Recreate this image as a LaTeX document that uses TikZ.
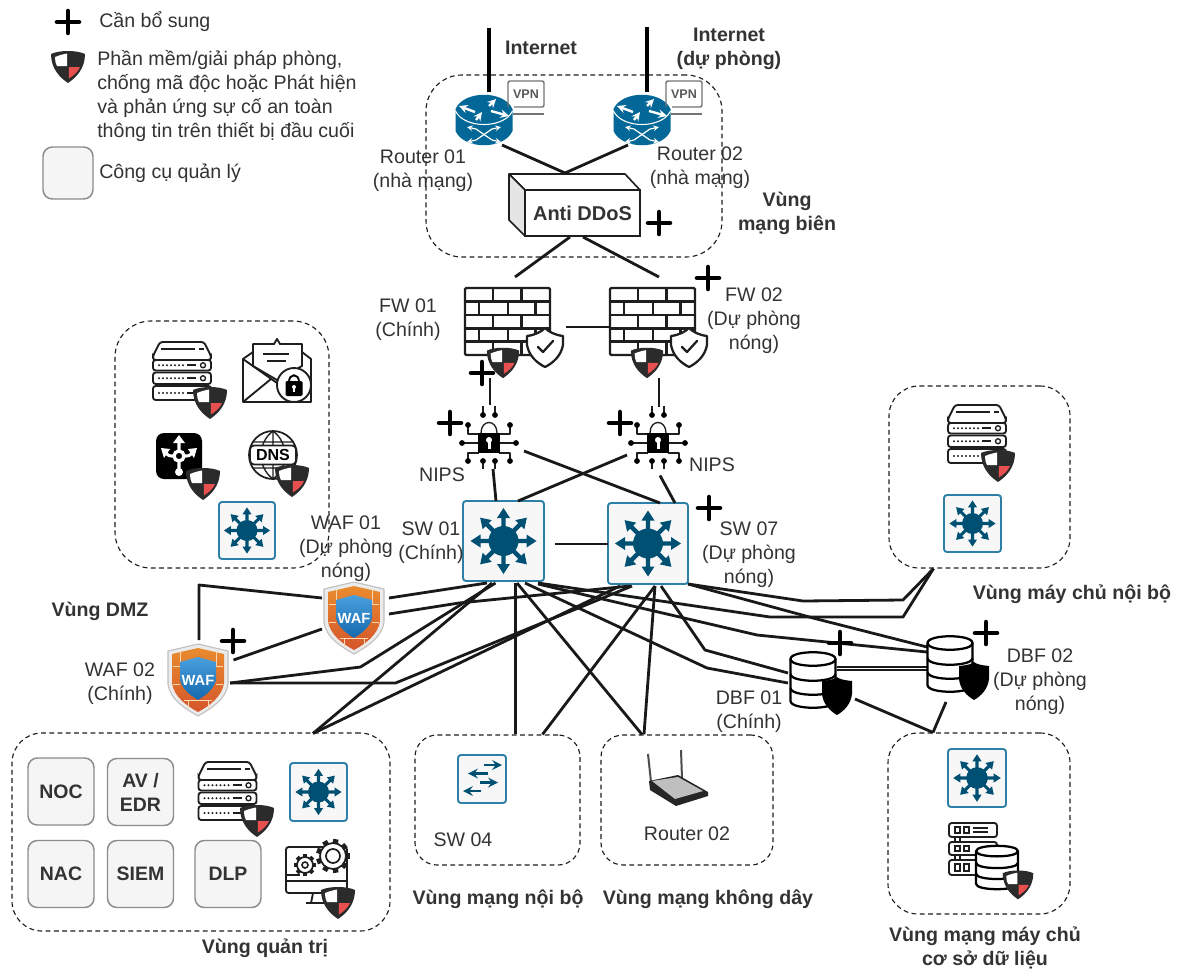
\documentclass[tikz,border=0pt]{standalone}
\usepackage{fontspec}
\setmainfont{Liberation Sans}
\usetikzlibrary{calc}
\definecolor{txt}{HTML}{333333}
\definecolor{rt}{HTML}{036897}
\definecolor{sdark}{HTML}{005073}
\definecolor{sline}{HTML}{2D7FA5}
\definecolor{dk}{HTML}{2B2B2B}
\definecolor{shred}{HTML}{E85050}
\definecolor{toolf}{HTML}{F5F5F5}
\definecolor{tooll}{HTML}{8C8C8C}
\definecolor{ink}{HTML}{1E1E1E}
\definecolor{wafa}{HTML}{E98B2E}
\definecolor{wafb}{HTML}{D4552B}
\definecolor{wafc}{HTML}{4A9FDC}
\definecolor{wafd}{HTML}{1469B0}
\tikzset{
  sz/.style 2 args={minimum width=#1*0.75pt,minimum height=#2*0.75pt},
  lbl/.style={font=\fontsize{14.7}{18}\selectfont,text=txt,align=center,inner sep=0pt,yshift=-1.9pt},
  blbl/.style={font=\bfseries\fontsize{14.7}{18}\selectfont,text=txt,align=center,inner sep=0pt,yshift=-1.9pt},
  zone/.style={draw=ink,line width=0.85pt,dash pattern=on 3.6pt off 2.6pt,inner sep=0pt,rounded corners=#1*0.75pt},
  hit/.style={inner sep=0pt,outer sep=0pt},
  swbox/.style={draw=sline,line width=1.4pt,fill=white!97!black,rounded corners=2.2pt,inner sep=0pt,outer sep=0pt},
  tool/.style={draw=tooll,line width=1.1pt,fill=toolf,rounded corners=7pt,inner sep=0pt,
    font=\bfseries\fontsize{14.6}{18}\selectfont,text=txt,align=center,sz={66}{67}},
  link/.style={draw=black!90,line width=2.1pt,line join=round},
  netl/.style={draw=black,line width=3.4pt},
  wall/.style={draw=ink,line width=1.7pt,line cap=round},
  pics/plusmark/.style={code={
    \draw[black,line width=3.4pt,line cap=round] (-11,0)--(11,0) (0,-11)--(0,11);}},
  pics/redshield/.style={code={
    \fill[dk] (-17,-12) .. controls (-9,-16) and (9,-16) .. (17,-12) .. controls (17,2) and (9,11) .. (0,17) .. controls (-9,11) and (-17,2) .. (-17,-12) -- cycle;
    \fill[white] (-13,-9) .. controls (-8,-11) and (-4,-12) .. (-0.8,-12.5) -- (-0.8,0) -- (-11,0) .. controls (-12.5,-3) .. (-13,-9) -- cycle;
    \fill[shred] (0.8,1) -- (12,1) .. controls (10,6) and (5,10) .. (0.8,12.5) -- cycle;}},
  pics/blackshield/.style={code={
    \fill[black] (-15,-15) .. controls (-6,-16) and (-2,-17) .. (0,-19) .. controls (2,-17) and (6,-16) .. (15,-15) -- (15,-2) .. controls (14,8) and (7,15) .. (0,19) .. controls (-7,15) and (-14,8) .. (-15,-2) -- cycle;}},
  pics/checkshield/.style={code={
    \draw[ink,fill=white,line width=1.7pt,line join=round] (-18,-11) .. controls (-10,-12) and (-4,-15) .. (0,-19) .. controls (4,-15) and (10,-12) .. (18,-11) -- (18,-2) .. controls (16,9) and (8,16) .. (0,20) .. controls (-8,16) and (-16,9) .. (-18,-2) -- cycle;
    \draw[ink,line width=1.7pt,line cap=round,line join=round] (-7,0) -- (-2,5) -- (8,-6);}},
  pics/swstar/.style={code={
    \fill[sdark] (0,0) circle[radius=15];
    \foreach \a in {0,45,...,315}{
      \fill[sdark,rotate=\a] (0,-2.2) -- (23,-2.2) -- (23,-6.5) -- (33,0) -- (23,6.5) -- (23,2.2) -- (0,2.2) -- cycle;}}},
  pics/routerpic/.style={code={
    \fill[rt] (-28.5,-11) -- (-28.5,11) .. controls (-20,30) and (20,30) .. (28.5,11) -- (28.5,-11) .. controls (20,-30) and (-20,-30) .. (-28.5,-11) -- cycle;
    \draw[white,line width=0.8pt] (-28.5,-9) .. controls (-20,9) and (20,9) .. (28.5,-9);
    \draw[white,line width=1.8pt,-stealth] (-9,-8) -- (-25,-14);
    \draw[white,line width=1.8pt,-stealth] (-8,0) -- (-2,-8);
    \draw[white,line width=1.8pt,-stealth] (5,-14) -- (12,-21);
    \draw[white,line width=1.8pt,-stealth] (7,-9) -- (25,-4);
    \draw[white,line width=0.9pt,stealth-stealth] (-17,7) -- (-8,9) -- (8,20) -- (17,22);
    \draw[white,line width=0.9pt,stealth-stealth] (-17,22) -- (-8,20) -- (8,9) -- (17,7);}},
  pics/vpnpic/.style={code={
    \draw[black!55,line width=1.1pt,rounded corners=1.5pt] (-18,13) -- (-18,-13) -- (18,-13) -- (18,13) -- (-12,13);
    \draw[black!55,line width=1.1pt] (-13,20) -- (18,20);
    \node[hit,font=\bfseries\fontsize{9.4}{10}\selectfont,text=black!65] (vpnt#1) at (0,0) {VPN};}},
  pics/firewallpic/.style={code={
    \draw[wall,rounded corners=1pt] (-42.5,-33.5) rectangle (42.5,33.5);
    \foreach \y in {-20,-6.5,7,20}{\draw[wall] (-42.5,\y) -- (42.5,\y);}
    \foreach \x in {-14.5,14}{\draw[wall] (\x,-33.5)--(\x,-20) (\x,-6.5)--(\x,7) (\x,20)--(\x,33.5);}
    \foreach \x in {-28.5,0.5,28}{\draw[wall] (\x,-20)--(\x,-6.5) (\x,7)--(\x,20);}}},
  pics/serverpic/.style={code={
    \draw[ink,fill=white,line width=1.4pt,rounded corners=2pt] (-29,-11) -- (-29,-15) -- (-22,-29) -- (22,-29) -- (29,-15) -- (29,-11) -- cycle;
    \draw[ink,line width=1.5pt] (-21,-22) -- (13,-22) (17,-22)--(22,-22);
    \foreach \t/\b in {-11/-0.5,1.5/13,15/29}{
      \draw[ink,fill=white,line width=1.4pt,rounded corners=2pt] (-29,\t) rectangle (29,\b);
      \foreach \x in {-23,-19,-15,-11,-7,-3,1}{\fill[ink] (\x,{(\t+\b)/2}) circle[radius=1.1];}
      \draw[ink,line width=1.4pt] (5,{(\t+\b)/2}) -- (14,{(\t+\b)/2});
      \draw[ink,line width=1pt] (21,{(\t+\b)/2}) circle[radius=2.5];}}},
  pics/mailpic/.style={code={
    \draw[ink,fill=white,line width=1.4pt,line join=round] (-24,14) -- (-24,-26) -- (-3,-26) -- (0,-31) -- (3,-26) -- (25,-26) -- (25,14) -- cycle;
    \draw[ink,line width=2.2pt] (-14,-16) -- (12,-16);
    \draw[ink,line width=1.3pt] (-10,-9) -- (9,-9);
    \draw[ink,fill=white,line width=1.4pt,line join=round] (-34,-11) -- (-24,-18) -- (-24,-4) -- (0,10) -- (25,-4) -- (25,-18) -- (34,-11) -- (34,32) -- (-34,32) -- cycle;
    \draw[ink,line width=1.4pt] (-34,-11) -- (0,13) (-34,32) -- (-6,9);
    \draw[ink,fill=white,line width=1.4pt] (17,15) circle[radius=17];
    \draw[black,line width=1.4pt] (12,12) .. controls (12,3) and (22,3) .. (22,12);
    \fill[black,rounded corners=1pt] (8.5,11) rectangle (25.5,26);
    \fill[white] (17,17) circle[radius=2];
    \fill[white] (16,17) rectangle (18,22);}},
  pics/routesq/.style={code={
    \fill[black,rounded corners=6pt] (-23,-23) rectangle (23,23);
    \draw[white,line width=2.5pt] (0,0) circle[radius=5];
    \draw[white,line width=2.3pt] (0,-5)--(0,-14) (-5,0) .. controls (-10,0) .. (-13,-3) (5,0) .. controls (10,0) .. (13,-3) (0,5)--(0,13);
    \fill[white] (0,-21)--(-6,-13)--(6,-13)--cycle;
    \fill[white] (-18,-8)--(-9,-7)--(-15,2)--cycle;
    \fill[white] (18,-8)--(9,-7)--(15,2)--cycle;
    \fill[white] (0,16) circle[radius=4];}},
  pics/dnspic/.style={code={
    \draw[ink,fill=white,line width=1.3pt] (0,0) circle[radius=24];
    \draw[ink,line width=1pt] (0,-24)--(0,24) (0,-24) .. controls (-16,-12) and (-16,12) .. (0,24) (0,-24) .. controls (16,-12) and (16,12) .. (0,24) (-20,-13)--(20,-13) (-20,13)--(20,13);
    \node[hit,draw=ink,line width=1.3pt,fill=white,rounded corners=3pt,sz={46}{19},font=\bfseries\fontsize{12}{13}\selectfont,text=black] (dnst) at (0,0) {DNS};}},
  pics/nipspic/.style={code={
    \draw[ink,line width=0.9pt,line join=round]
      (-6,-30)--(-6,-37) (6,-30)--(6,-37) (-6,17)--(-6,26) (6,17)--(6,26)
      (-21,-18)--(-21,-9)--(-10,-9) (21,-18)--(21,-9)--(10,-9)
      (-27,0)--(-10,0) (27,0)--(10,0)
      (-21,18)--(-21,10)--(-10,10) (21,18)--(21,10)--(10,10) (-6,-28)--(-6,-26) (6,-28)--(6,-26);
    \foreach \p in {(-6,-28),(6,-28),(-21,-18),(21,-18),(-27,0),(27,0),(-21,18),(21,18),(-6,18),(6,18)}{\fill[black] \p circle[radius=2.9];}
    \draw[ink,line width=1pt] (-8,-10) .. controls (-8,-24) and (8,-24) .. (8,-10);
    \fill[black] (-11,-10) rectangle (11,10);
    \fill[white] (0,-3) circle[radius=3];
    \fill[white] (-1.5,-2) rectangle (1.5,6);}},
  pics/dbpic/.style={code={
    \draw[black,fill=white,line width=1.7pt] (-22.5,-21) -- (-22.5,21) .. controls (-22.5,30) and (22.5,30) .. (22.5,21) -- (22.5,-21) .. controls (22.5,-30) and (-22.5,-30) .. (-22.5,-21) -- cycle;
    \draw[black,line width=1.7pt] (-22.5,-21) .. controls (-22.5,-12) and (22.5,-12) .. (22.5,-21)
      (-22.5,-6) .. controls (-22.5,3) and (22.5,3) .. (22.5,-6)
      (-22.5,8) .. controls (-22.5,17) and (22.5,17) .. (22.5,8);}},
  pics/wafpic/.style={code={
    \draw[black!25,fill=black!8,line width=0.8pt,line join=round] (0,-36) -- (30,-29) -- (30,4) .. controls (28,20) and (12,29) .. (0,36) .. controls (-12,29) and (-28,20) .. (-30,4) -- (-30,-29) -- cycle;
    \shade[top color=wafa,bottom color=wafb] (0,-32) -- (26,-26) -- (26,3) .. controls (24,17) and (11,26) .. (0,32) .. controls (-11,26) and (-24,17) .. (-26,3) -- (-26,-26) -- cycle;
    \draw[white!70!orange,line width=0.4pt] (-25,-14)--(-18,-14) (18,-14)--(25,-14) (-25,4)--(-18,4) (18,4)--(25,4) (-14,20)--(14,20) (-18,-29)--(-18,-14) (18,-29)--(18,-14) (-10,20)--(-10,29) (10,20)--(10,29);
    \shade[top color=wafc,bottom color=wafd] (0,-23) -- (18,-18) -- (18,0) .. controls (16,9) and (8,15) .. (0,20) .. controls (-8,15) and (-16,9) .. (-18,0) -- (-18,-18) -- cycle;
    \node[hit,font=\bfseries\fontsize{11}{12}\selectfont,text=white] (waft#1) at (0,0) {WAF};}},
}
\begin{document}
\begin{tikzpicture}[x=0.75pt,y=-0.75pt]
\useasboundingbox (0,0) rectangle (1182,968);
\fill[white] (0,0) rectangle (1182,968);

% zones
\node[zone=36,sz={296}{182}] (zb) at (574,166) {};
\node[zone=36,sz={214}{247}] (zd) at (222,444.5) {};
\node[zone=30,sz={181}{182}] (zn) at (979.5,477) {};
\node[zone=30,sz={378}{198}] (zq) at (201,832) {};
\node[zone=22,sz={165}{130}] (zi) at (497.5,800) {};
\node[zone=22,sz={172}{130}] (zw) at (687,800) {};
\node[zone=30,sz={182}{181}] (zdb) at (979,823.5) {};

% legend
\node[tool,sz={50}{52}] (legtool) at (68,173) {};
\node[lbl,anchor=west] (legplus) at (99,19) {Cần bổ sung};
\node[lbl,anchor=west,align=left] (legshield) at (97,93.5) {Phần mềm/giải pháp phòng,\\chống mã độc hoặc Phát hiện\\và phản ứng sự cố an toàn\\thông tin trên thiết bị đầu cuối};
\node[lbl,anchor=west] (legtoollbl) at (99,171) {Công cụ quản lý};
\pic at (68,22) {plusmark};
\pic at (68,66) {redshield};

% device anchors
\coordinate (inet1) at (489,28);
\coordinate (inet2) at (647,27);
\node[hit,sz={58}{50}] (r1) at (484,120) {};
\node[hit,sz={58}{50}] (r2) at (642,120) {};
\draw[ink,fill=white,line width=1.2pt,line join=round] (509,174) -- (625,174) -- (640,190) -- (525,190) -- cycle;
\draw[ink,fill=black!10,line width=1.2pt,line join=round] (509,174) -- (525,190) -- (525,236) -- (509,220) -- cycle;
\node[draw=ink,line width=1.2pt,fill=white,inner sep=0pt,outer sep=0pt,sz={115}{46},font=\bfseries\fontsize{15}{18}\selectfont,text=txt] (ddos) at (582.5,213) {Anti DDoS};
\node[hit,sz={85}{67}] (fw1) at (507.5,321.5) {};
\node[hit,sz={85}{67}] (fw2) at (652.5,321.5) {};
\node[hit,sz={60}{65}] (nips1) at (489,443) {};
\node[hit,sz={60}{65}] (nips2) at (658,443) {};
\node[swbox,sz={81}{80}] (sw1) at (503.5,541) {};
\node[swbox,sz={80}{81}] (sw7) at (648,543.5) {};
\node[hit,sz={62}{72}] (waf1) at (354,618) {};
\node[hit,sz={60}{74}] (waf2) at (198,680) {};
\node[hit,sz={62}{63}] (dbf1) at (821,683.5) {};
\node[hit,sz={62}{65}] (dbf2) at (959,667.5) {};

% connectors
\draw[netl] (inet1) -- ([shift={(5,-3)}]r1.north);
\draw[netl] (inet2) -- ([shift={(5,-3)}]r2.north);
\draw[link] ([shift={(18,0)}]r1.south) -- ([shift={(-17.5,-17)}]ddos.north);
\draw[link] ([shift={(-14,0)}]r2.south) -- ([shift={(-17.5,-17)}]ddos.north);
\draw[link] ([shift={(-12.5,1)}]ddos.south) -- ([shift={(7.5,-11)}]fw1.north);
\draw[link] ([shift={(0.5,1)}]ddos.south) -- ([shift={(6.5,-11)}]fw2.north);
\draw[link] ([shift={(16,5.5)}]fw1.east) -- ([shift={(0,5.5)}]fw2.west);
\draw[link] ([shift={(-17.5,23)}]fw1.south) -- ([shift={(1,-5.5)}]nips1.north);
\draw[link] ([shift={(6.5,23)}]fw2.south) -- ([shift={(1,-3.5)}]nips2.north);
\draw[link] ([shift={(4,-6.5)}]nips1.south) -- ([shift={(-7.5,0)}]sw1.north);
\draw[link] ([shift={(5,8)}]nips1.east) -- ([shift={(12,0)}]sw7.north);
\draw[link] ([shift={(-1,12)}]nips2.west) -- ([shift={(14.5,0)}]sw1.north);
\draw[link] ([shift={(2,0)}]nips2.south) -- ([shift={(27,0)}]sw7.north);
\draw[link] ([shift={(11,3)}]sw1.east) -- ([shift={(0,0.5)}]sw7.west);
% WAF
\draw[link] ([shift={(-1,-20)}]waf1.west) -- (199,585) -- ([shift={(1,-3)}]waf2.north);
\draw[link] ([shift={(4,-20)}]waf1.east) -- ([shift={(-16.5,2)}]sw1.south);
\draw[link] ([shift={(4,-4)}]waf1.east) -- (459,603) -- ([shift={(-18,2)}]sw7.south);
\draw[link] ([shift={(-1,11)}]waf1.west) -- ([shift={(5.5,-20)}]waf2.east);
\draw[link] ([shift={(2,3)}]waf2.east) -- (360.5,667) -- ([shift={(-8,2)}]sw1.south);
\draw[link] ([shift={(2,3)}]waf2.east) -- (395.6,683) -- ([shift={(-16,2)}]sw7.south);
% zones below
\draw[link] ([shift={(-11.5,2)}]sw1.south) -- ([shift={(112,1)}]zq.north);
\draw[link] ([shift={(-28,2)}]sw7.south) -- ([shift={(112,1)}]zq.north);
\draw[link] ([shift={(12,2)}]sw1.south) -- ([shift={(18,0)}]zi.north);
\draw[link] ([shift={(13.5,2)}]sw1.south) -- ([shift={(-45,0)}]zw.north);
\draw[link] ([shift={(7,2)}]sw7.south) -- ([shift={(45,0)}]zi.north);
\draw[link] ([shift={(7,2)}]sw7.south) -- ([shift={(-43,0)}]zw.north);
% DBF
\draw[link] ([shift={(13,2)}]sw7.south) -- (705,650) -- ([shift={(-2,-10.5)}]dbf1.west);
\draw[link] ([shift={(21.5,2)}]sw1.south) -- (707,668) -- ([shift={(-2,-0.5)}]dbf1.west);
\draw[link] ([shift={(-6,2)}]sw1.south east) -- (770,617) -- (903,617) -- ([shift={(-46,0)}]zn.south);
\draw[link] ([shift={(-6,3)}]sw1.south east) -- (757,635) -- ([shift={(-1,-15.5)}]dbf2.west);
\draw[link] (sw7.south east) -- (803,601) -- (903,600) -- ([shift={(-46,0)}]zn.south);
\draw[link] (sw7.south east) -- (813,618) -- ([shift={(-1,-20.5)}]dbf2.west);
\draw[link,line width=1.3pt] ([shift={(-15,-16.5)}]dbf1.east) -- ([shift={(-1,-0.5)}]dbf2.west);
\draw[link,line width=1.3pt] ([shift={(-15,-13.5)}]dbf1.east) -- ([shift={(-1,2.5)}]dbf2.west);
\draw[link] ([shift={(3,15.5)}]dbf1.east) -- ([shift={(-46,0)}]zdb.north);
\draw[link] ([shift={(-13,2)}]dbf2.south) -- ([shift={(-46,0)}]zdb.north);

% edge zone icons
\pic at (484,120) {routerpic};
\pic at (642,120) {routerpic};
\pic at (526,94) {vpnpic=a};
\pic at (684,94) {vpnpic=b};
\pic at (659,223) {plusmark};
% firewalls
\pic at (507.5,321.5) {firewallpic};
\pic at (652.5,321.5) {firewallpic};
\pic at (545,347) {checkshield};
\pic at (689,347) {checkshield};
\pic[scale=0.95] at (503,362) {redshield};
\pic[scale=0.95] at (647,362) {redshield};
\pic at (708,278) {plusmark};
\pic at (482,373) {plusmark};
% NIPS
\pic at (489,443) {nipspic};
\pic at (658,443) {nipspic};
\pic at (450,423) {plusmark};
\pic at (620,423) {plusmark};
% switches
\pic at (503.5,541) {swstar};
\pic at (648,543.5) {swstar};
\pic at (709,508) {plusmark};
% WAF
\pic at (354,618) {wafpic=a};
\pic at (198,680) {wafpic=b};
\pic at (233,641) {plusmark};
% DBF
\pic at (813,680) {dbpic};
\pic at (950,664) {dbpic};
\pic at (837,696) {blackshield};
\pic at (974,681) {blackshield};
\pic at (840,643) {plusmark};
\pic at (986,633) {plusmark};

% DMZ zone
\pic at (182,371) {serverpic};
\pic at (210,402) {redshield};
\pic at (277,370) {mailpic};
\pic at (179,456) {routesq};
\pic at (203,483) {redshield};
\pic at (273,455) {dnspic};
\pic at (292,480) {redshield};
\node[swbox,sz={56}{57}] (swd) at (247,530.5) {};
\pic[scale=0.7] at (247,530.5) {swstar};

% internal servers zone
\pic at (977,434) {serverpic};
\pic at (998,465) {redshield};
\node[swbox,sz={57}{57}] (swn) at (972.5,523.5) {};
\pic[scale=0.7] at (972.5,523.5) {swstar};

% management zone
\node[tool] (noc) at (61,791.5) {NOC};
\node[tool] (av) at (140.5,792) {AV /\\EDR};
\node[tool] (nac) at (61,874) {NAC};
\node[tool] (siem) at (140.5,874) {SIEM};
\node[tool] (dlp) at (228,874) {DLP};
\pic at (227.5,791) {serverpic};
\pic at (257,820) {redshield};
\node[swbox,sz={57}{58}] (swq) at (318.5,792) {};
\pic[scale=0.7] at (318.5,792) {swstar};
% monitor and gears
\draw[ink,fill=white,line width=1.4pt,rounded corners=2pt] (286,893) -- (286,847) -- (347,847) -- (347,893) -- cycle;
\draw[ink,line width=1.4pt] (286,881) -- (347,881) (286,875) -- (300,875);
\draw[ink,line width=1.4pt] (313,893) -- (311,903) (326,893) -- (328,903) (306,903) -- (335,903);
\foreach \a in {0,45,...,315}{\draw[ink,line width=3pt] ($(305,865)+(\a:7)$) -- ($(305,865)+(\a:11)$);}
\draw[ink,fill=white,line width=1.3pt] (305,865) circle[radius=8];
\draw[ink,line width=1.2pt] (305,865) circle[radius=3];
\foreach \a in {0,40,...,320}{\draw[ink,line width=4pt] ($(333,856)+(\a:11)$) -- ($(333,856)+(\a:17)$);}
\draw[ink,fill=white,line width=1.3pt] (333,856) circle[radius=13];
\draw[ink,line width=1.3pt] (333,856) circle[radius=7];
\pic at (338,902) {redshield};

% internal network zone
\node[swbox,sz={48}{48}] (sw04) at (482,779) {};
\draw[sdark,line width=2.2pt,-stealth] (484,765) -- (502,765);
\draw[sdark,line width=2.2pt,-stealth] (488,773.5) -- (468,773.5);
\draw[sdark,line width=2.2pt,-stealth] (480,782.5) -- (498,782.5);
\draw[sdark,line width=2.2pt,-stealth] (481,791) -- (463,791);

% wireless router
\draw[black!70,line width=1.5pt] (648,754) -- (651,782);
\draw[black!70,line width=1.5pt] (681,750) -- (682,778);
\fill[black!85] (649,781) -- (678,775) -- (708,792) -- (708,796) -- (676,806) -- (650,790) -- cycle;
\fill[black!25] (652,781) -- (678,777) -- (703,791) -- (675,799) -- cycle;

% DB zone
\node[swbox,sz={58}{58}] (swdb) at (977,778) {};
\pic[scale=0.72] at (977,778) {swstar};
\foreach \t/\b in {823/837,842/855,860/875}{
  \draw[ink,fill=white,line width=1.4pt,rounded corners=2pt] (949,\t) rectangle (997,\b);
  \draw[ink,line width=1.2pt] (955,{\t+4}) rectangle (960,{\b-4}) (964,{\t+4}) rectangle (969,{\b-4});}
\draw[ink,line width=1.3pt] (973,828) -- (988,828) (973,832) -- (988,832);
\draw[ink,line width=1.3pt] (955,837) -- (955,842) (960,837) -- (960,842) (955,855) -- (955,860) (960,855) -- (960,860);
\pic[scale=0.93,yscale=0.84] at (997,867.5) {dbpic};
\pic[scale=0.9] at (1018,884) {redshield};

% labels
\node[blbl] (tinet1) at (541,45) {Internet};
\node[blbl] (tinet2) at (729,46) {Internet\\(dự phòng)};
\node[lbl] (tr1) at (423,168) {Router 01\\(nhà mạng)};
\node[lbl] (tr2) at (700,165) {Router 02\\(nhà mạng)};
\node[blbl] (tbien) at (787,210.5) {Vùng\\mạng biên};
\node[lbl] (tfw1) at (408,317.5) {FW 01\\(Chính)};
\node[lbl] (tfw2) at (754,318) {FW 02\\(Dự phòng\\nóng)};
\node[lbl] (tn1) at (442,472) {NIPS};
\node[lbl] (tn2) at (712,462) {NIPS};
\node[lbl] (twaf1) at (346,546.5) {WAF 01\\(Dự phòng\\nóng)};
\node[lbl] (tsw1) at (431,540) {SW 01\\(Chính)};
\node[lbl] (tsw7) at (749,552) {SW 07\\(Dự phòng\\nóng)};
\node[blbl] (tdmz) at (100,609) {Vùng DMZ};
\node[lbl] (twaf2) at (120,681) {WAF 02\\(Chính)};
\node[lbl] (tdbf1) at (749,709.5) {DBF 01\\(Chính)};
\node[lbl] (tdbf2) at (1040,679) {DBF 02\\(Dự phòng\\nóng)};
\node[blbl] (tznb) at (1072,592) {Vùng máy chủ nội bộ};
\node[lbl] (tsw04) at (463,837) {SW 04};
\node[lbl] (trt02) at (687,831) {Router 02};
\node[blbl] (tzi) at (498,897) {Vùng mạng nội bộ};
\node[blbl] (tzw) at (708,897) {Vùng mạng không dây};
\node[blbl] (tzq) at (265,946) {Vùng quản trị};
\node[blbl] (tzdb) at (985,945.5) {Vùng mạng máy chủ\\cơ sở dữ liệu};
\end{tikzpicture}
\end{document}
